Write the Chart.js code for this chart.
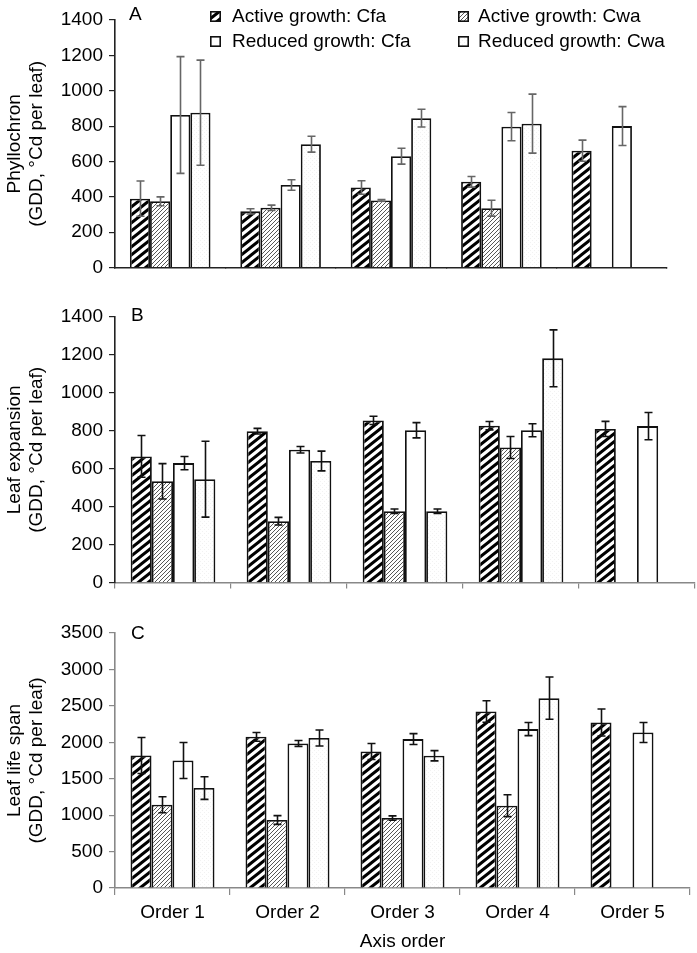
<!DOCTYPE html>
<html><head><meta charset="utf-8">
<script src="https://cdn.jsdelivr.net/npm/chart.js@4.4.1/dist/chart.umd.min.js"></script>
<style>
html,body{margin:0;padding:0;background:#fff}
body{width:697px;height:953px;position:relative;overflow:hidden;font-family:"Liberation Sans",Arial,sans-serif;color:#000}
canvas{position:absolute;left:0}
.lbl{position:absolute;font-size:19px;line-height:22px;white-space:nowrap}
.icon{position:absolute;width:11px;height:11px}
</style></head><body>
<canvas id="cA" width="697" height="285" style="top:0"></canvas>
<canvas id="cB" width="697" height="315" style="top:285px"></canvas>
<canvas id="cC" width="697" height="353" style="top:600px"></canvas>
<div class="lbl" style="left:129px;top:3px">A</div>
<div class="lbl" style="left:131px;top:304px">B</div>
<div class="lbl" style="left:131px;top:622px">C</div>
<div id="legend"></div>
<script>
// ---------- data ----------
const categories = ['Order 1', 'Order 2', 'Order 3', 'Order 4', 'Order 5'];
const seriesLabels = ['Active growth: Cfa', 'Active growth: Cwa', 'Reduced growth: Cfa', 'Reduced growth: Cwa'];

const phyllTicks = [0, 200, 400, 600, 800, 1000, 1200, 1400];
const phyllActiveCfa = [390, 318, 453, 485, 661];
const phyllActiveCwa = [375, 338, 380, 336, null];
const phyllReducedCfa = [863, 467, 630, 797, 800];
const phyllReducedCwa = [876, 698, 845, 814, null];
const phyllActiveCfaErr = [100, 15, 38, 30, 60];
const phyllActiveCwaErr = [25, 15, 5, 45, null];
const phyllReducedCfaErr = [330, 30, 45, 80, 110];
const phyllReducedCwaErr = [297, 45, 50, 167, null];

const expTicks = [0, 200, 400, 600, 800, 1000, 1200, 1400];
const expActiveCfa = [665, 798, 855, 827, 810];
const expActiveCwa = [534, 324, 376, 712, null];
const expReducedCfa = [630, 700, 803, 803, 825];
const expReducedCwa = [545, 641, 376, 1182, null];
const expActiveCfaErr = [110, 15, 22, 22, 40];
const expActiveCwaErr = [93, 20, 12, 58, null];
const expReducedCfaErr = [35, 17, 40, 34, 72];
const expReducedCwaErr = [200, 52, 12, 150, null];

const lifeTicks = [0, 500, 1000, 1500, 2000, 2500, 3000, 3500];
const lifeActiveCfa = [1819, 2075, 1874, 2423, 2272];
const lifeActiveCwa = [1143, 933, 960, 1129, null];
const lifeReducedCfa = [1750, 1984, 2044, 2181, 2135];
const lifeReducedCwa = [1372, 2058, 1815, 2606, null];
const lifeActiveCfaErr = [247, 60, 110, 147, 185];
const lifeActiveCwaErr = [110, 60, 30, 150, null];
const lifeReducedCfaErr = [247, 40, 75, 90, 137];
const lifeReducedCwaErr = [155, 110, 70, 290, null];

// ---------- fills ----------
function hatch(w, h, lw, color) {
  const c = document.createElement('canvas');
  c.width = w; c.height = h;
  const g = c.getContext('2d');
  g.fillStyle = '#fff'; g.fillRect(0, 0, w, h);
  g.strokeStyle = color; g.lineWidth = lw;
  g.beginPath();
  for (let k = -1; k <= 1; k++) {
    g.moveTo(-w, h * (1 + k) + h);
    g.lineTo(2 * w, h * (1 + k) - 2 * h);
  }
  g.stroke();
  return c;
}
function stipple() {
  const c = document.createElement('canvas');
  c.width = 4; c.height = 4;
  const g = c.getContext('2d');
  g.fillStyle = '#fff'; g.fillRect(0, 0, 4, 4);
  g.fillStyle = '#f2f2f2'; g.fillRect(0, 0, 1, 1); g.fillRect(2, 2, 1, 1);
  return c;
}
const tiles = [hatch(10, 8, 3, '#000'), hatch(4, 4, 0.9, '#444'), null, stipple()];
function fillFor(ctx, i) {
  if (!tiles[i]) return '#ffffff';
  return ctx.createPattern(tiles[i], 'repeat');
}

// ---------- legend (panel A) ----------
(function () {
  const lg = document.getElementById('legend');
  const pos = [[210, 232, 5], [458, 478, 5], [210, 232, 30], [458, 478, 30]];
  seriesLabels.forEach((t, i) => {
    const [ix, tx, ty] = pos[i];
    const cv = document.createElement('canvas');
    cv.width = 11; cv.height = 11; cv.className = 'icon';
    cv.style.left = ix + 'px'; cv.style.top = (ty + 6) + 'px';
    const g = cv.getContext('2d');
    g.fillStyle = fillFor(g, i); g.fillRect(0, 0, 11, 11);
    g.strokeStyle = '#111'; g.lineWidth = 1.6; g.strokeRect(0.8, 0.8, 9.4, 9.4);
    lg.appendChild(cv);
    const d = document.createElement('div');
    d.className = 'lbl'; d.textContent = t;
    d.style.left = tx + 'px'; d.style.top = ty + 'px';
    lg.appendChild(d);
  });
})();

// ---------- error bars plugin ----------
const errorBarPlugin = {
  id: 'errbars',
  afterDatasetsDraw(chart, args, opts) {
    const ctx = chart.ctx, y = chart.scales.y;
    chart.data.datasets.forEach((ds, i) => {
      const meta = chart.getDatasetMeta(i);
      meta.data.forEach((bar, j) => {
        const v = ds.data[j], e = ds.errors[j];
        if (v == null || e == null) return;
        const x = Math.round(bar.x) + 0.5;
        const yt = y.getPixelForValue(v + e), yb = y.getPixelForValue(v - e);
        ctx.save();
        ctx.strokeStyle = opts.color; ctx.lineWidth = 1.6;
        ctx.beginPath();
        ctx.moveTo(x, yt); ctx.lineTo(x, yb);
        ctx.moveTo(x - 4, yt); ctx.lineTo(x + 4, yt);
        ctx.moveTo(x - 4, yb); ctx.lineTo(x + 4, yb);
        ctx.stroke();
        ctx.restore();
      });
    });
  }
};

const FONT = { family: '"Liberation Sans", Arial, sans-serif', size: 19 };

function buildChart(id, cfg) {
  const el = document.getElementById(id);
  const ctx = el.getContext('2d');
  return new Chart(el, {
    type: 'bar',
    data: {
      labels: categories,
      datasets: cfg.values.map((vals, i) => ({
        label: seriesLabels[i],
        data: vals,
        errors: cfg.errors[i],
        backgroundColor: fillFor(ctx, i),
        borderColor: '#111',
        borderWidth: 1.8,
        categoryPercentage: 0.73,
        barPercentage: 1.0
      }))
    },
    options: {
      responsive: false, animation: false, devicePixelRatio: 1,
      layout: { padding: { top: cfg.padTop, right: cfg.padRight, left: 0, bottom: 0 } },
      plugins: { legend: { display: false }, tooltip: { enabled: false }, errbars: { color: cfg.errColor } },
      scales: {
        x: {
          grid: { display: true, drawOnChartArea: false, tickLength: cfg.xTickLen, color: cfg.xColor, lineWidth: 1.2, offset: true },
          border: { color: cfg.xColor, width: 1.6 },
          ticks: { display: cfg.showX, font: FONT, color: '#000', padding: 6 },
          title: { display: cfg.showX, text: 'Axis order', font: FONT, color: '#000', padding: { top: 0, bottom: 0 } },
          afterFit: s => { s.height = cfg.xHeight; }
        },
        y: {
          min: 0, max: cfg.ticks[cfg.ticks.length - 1],
          afterBuildTicks: s => { s.ticks = cfg.ticks.map(v => ({ value: v })); },
          grid: { drawOnChartArea: false, tickLength: 6, color: cfg.yColor, lineWidth: 1.2 },
          border: { color: cfg.yColor, width: 1.6 },
          ticks: { font: FONT, color: '#000', padding: 6, callback: v => String(v) },
          title: { display: true, text: cfg.title, font: Object.assign({}, FONT, { lineHeight: 1.15 }), color: '#000', padding: { top: 4, bottom: 0 } },
          afterFit: s => { s.width = 115; }
        }
      }
    },
    plugins: [errorBarPlugin]
  });
}

buildChart('cA', {
  values: [phyllActiveCfa, phyllActiveCwa, phyllReducedCfa, phyllReducedCwa],
  errors: [phyllActiveCfaErr, phyllActiveCwaErr, phyllReducedCfaErr, phyllReducedCwaErr],
  ticks: phyllTicks, title: ['Phyllochron', '(GDD, °Cd per leaf)'],
  padTop: 20, padRight: 30, xHeight: 10, xTickLen: 0, showX: false,
  xColor: '#222', yColor: '#222', errColor: '#666'
});
buildChart('cB', {
  values: [expActiveCfa, expActiveCwa, expReducedCfa, expReducedCwa],
  errors: [expActiveCfaErr, expActiveCwaErr, expReducedCfaErr, expReducedCwaErr],
  ticks: expTicks, title: ['Leaf expansion', '(GDD, °Cd per leaf)'],
  padTop: 32, padRight: 2, xHeight: 12, xTickLen: 6, showX: false,
  xColor: '#888', yColor: '#222', errColor: '#111'
});
buildChart('cC', {
  values: [lifeActiveCfa, lifeActiveCwa, lifeReducedCfa, lifeReducedCwa],
  errors: [lifeActiveCfaErr, lifeActiveCwaErr, lifeReducedCfaErr, lifeReducedCwaErr],
  ticks: lifeTicks, title: ['Leaf life span', '(GDD, °Cd per leaf)'],
  padTop: 33, padRight: 7, xHeight: 65, xTickLen: 7, showX: true,
  xColor: '#888', yColor: '#888', errColor: '#111'
});
</script>
</body></html>
